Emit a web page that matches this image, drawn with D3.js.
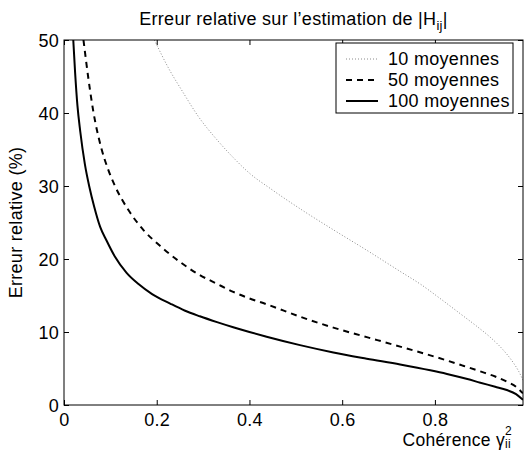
<!DOCTYPE html>
<meta charset="utf-8">
<html>
  <head>
    <style>
      body { margin: 0; background: #fff; }
      text { font-family: "Liberation Sans", Arial, sans-serif; fill: #000; letter-spacing: 0.3px; }
      .axis path, .axis line { stroke: #000; }
    </style>
    <script src="https://cdn.jsdelivr.net/npm/d3@7"></script>
  </head>
  <body>
    <div id="chart"></div>
    <script>
    // coherence values (x) and relative error in % (y)
    var coh10  = [0.195, 0.225, 0.257, 0.290, 0.329, 0.365, 0.401, 0.444, 0.516, 0.581, 0.653, 0.725, 0.770, 0.811, 0.861, 0.890, 0.919, 0.945, 0.969, 0.980, 0.990];
    var err10  = [50,    46.2,  42.8,  39.5,  36.4,  33.9,  31.7,  29.7,  26.6,  24.0,  21.2,  18.3,  16.5,  14.6,  12.2,  10.8,  9.3,   7.7,   5.8,   4.7,   3.4];

    var coh50  = [0.042, 0.052, 0.063, 0.080, 0.095, 0.110, 0.140, 0.171, 0.207, 0.250, 0.293, 0.330, 0.365, 0.400, 0.437, 0.509, 0.581, 0.653, 0.725, 0.790, 0.826, 0.860, 0.898, 0.930, 0.955, 0.975, 0.990];
    var err50  = [50,    45,    40.3,  35.3,  32.3,  30.0,  26.6,  24.0,  21.8,  19.6,  17.8,  16.6,  15.5,  14.6,  13.8,  12.1,  10.6,  9.3,   8.0,   6.8,   6.1,   5.4,   4.6,   3.9,   3.2,   2.5,   1.6];

    var coh100 = [0.020, 0.024, 0.029, 0.035, 0.045, 0.055, 0.065, 0.078, 0.092, 0.110, 0.135, 0.160, 0.190, 0.229, 0.260, 0.293, 0.330, 0.365, 0.400, 0.437, 0.509, 0.581, 0.653, 0.725, 0.790, 0.826, 0.870, 0.898, 0.930, 0.955, 0.975, 0.990];
    var err100 = [50,    45.5,  41,    37.5,  33,    29.8,  27.2,  24.4,  22.5,  20.3,  18.1,  16.6,  15.2,  13.9,  12.95, 12.15, 11.35, 10.65, 10.0,  9.35,  8.2,   7.2,   6.35,  5.55,  4.75,  4.25,  3.55,  3.05,  2.5,   2.05,  1.5,   0.7];

    var xTicks = [0, 0.2, 0.4, 0.6, 0.8];
    var yTicks = [0, 10, 20, 30, 40, 50];
    var seriesNames = ["10 moyennes", "50 moyennes", "100 moyennes"];

    var W = 524, H = 452;
    var margin = { top: 40, right: 1, bottom: 47, left: 64 },
        width = W - margin.left - margin.right,
        height = H - margin.top - margin.bottom;

    var svg = d3.select("#chart").append("svg")
        .attr("width", W)
        .attr("height", H);

    var g = svg.append("g")
        .attr("transform", "translate(" + margin.left + "," + margin.top + ")");

    var x = d3.scaleLinear().domain([0, 0.99]).range([0, width]);
    var y = d3.scaleLinear().domain([0, 50]).range([height, 0]);

    var series = [
      { name: seriesNames[0], xs: coh10,  ys: err10,  stroke: "#8a8a8a", w: 1, dash: "1,2" },
      { name: seriesNames[1], xs: coh50,  ys: err50,  stroke: "#000",    w: 2, dash: "6,5" },
      { name: seriesNames[2], xs: coh100, ys: err100, stroke: "#000",    w: 2, dash: null }
    ];

    var line = d3.line()
        .x(function(d) { return x(d[0]); })
        .y(function(d) { return y(d[1]); })
        .curve(d3.curveMonotoneX);

    g.append("clipPath").attr("id", "clip")
      .append("rect").attr("width", width).attr("height", height);

    g.selectAll(".curve")
      .data(series)
      .enter().append("path")
        .attr("class", "curve")
        .attr("clip-path", "url(#clip)")
        .attr("d", function(s) { return line(d3.zip(s.xs, s.ys)); })
        .attr("fill", "none")
        .attr("stroke", function(s) { return s.stroke; })
        .attr("stroke-width", function(s) { return s.w; })
        .attr("stroke-dasharray", function(s) { return s.dash; });

    // axes, ticks pointing inward like matlab
    var fmt = function(d) { return d === 0 ? "0" : String(d); };
    g.append("g").attr("class", "axis")
        .attr("transform", "translate(0," + height + ")")
        .call(d3.axisBottom(x).tickValues(xTicks).tickSize(-5).tickPadding(8).tickFormat(fmt));
    var yAxis = g.append("g").attr("class", "axis")
        .call(d3.axisLeft(y).tickValues(yTicks).tickSize(-5).tickPadding(5).tickFormat(fmt));
    g.append("g").attr("class", "axis")
        .call(d3.axisTop(x).tickValues(xTicks).tickSize(-5).tickFormat(""));
    g.append("g").attr("class", "axis")
        .attr("transform", "translate(" + width + ",0)")
        .call(d3.axisRight(y).tickValues(yTicks).tickSize(-5).tickFormat(""));
    g.selectAll(".axis .domain").remove();
    g.selectAll(".axis text").style("font-size", "18px").style("font-family", "'Liberation Sans', Arial, sans-serif");
    yAxis.selectAll("text").attr("dy", "0.35em");

    g.append("rect")
      .attr("width", width).attr("height", height)
      .attr("fill", "none").attr("stroke", "#000").attr("stroke-width", 1);

    // title
    var title = svg.append("text")
      .attr("x", margin.left + width / 2)
      .attr("y", 25)
      .attr("text-anchor", "middle")
      .style("font-size", "18px");
    title.append("tspan").text("Erreur relative sur l\u2019estimation de |H");
    title.append("tspan").attr("dy", 5).style("font-size", "13px").text("ij");
    title.append("tspan").attr("dy", -5).text("|");

    // y label
    svg.append("text")
      .attr("transform", "translate(22," + (margin.top + height / 2) + ") rotate(-90)")
      .attr("text-anchor", "middle")
      .style("font-size", "18px")
      .text("Erreur relative (%)");

    // x label
    svg.append("text")
      .attr("x", 505).attr("y", 446)
      .attr("text-anchor", "end")
      .style("font-size", "17.5px")
      .text("Cohérence \u03b3");
    svg.append("text").attr("x", 505).attr("y", 435).style("font-size", "12px").text("2");
    svg.append("text").attr("x", 505).attr("y", 448).style("font-size", "12px").text("ii");

    // legend
    var lg = svg.append("g").attr("transform", "translate(336,43)");
    lg.append("rect")
      .attr("width", 177).attr("height", 70)
      .attr("fill", "#fff").attr("stroke", "#000").attr("stroke-width", 1);
    var rows = lg.selectAll(".row").data(series).enter().append("g")
      .attr("transform", function(d, i) { return "translate(0," + (16 + i * 21) + ")"; });
    rows.append("line")
      .attr("x1", 10).attr("x2", 42)
      .attr("stroke", function(s) { return s.stroke; })
      .attr("stroke-width", function(s) { return s.w; })
      .attr("stroke-dasharray", function(s) { return s.dash; });
    rows.append("text")
      .attr("x", 52).attr("dy", "0.35em")
      .style("font-size", "18px")
      .text(function(s) { return s.name; });
    </script>
  </body>
</html>
